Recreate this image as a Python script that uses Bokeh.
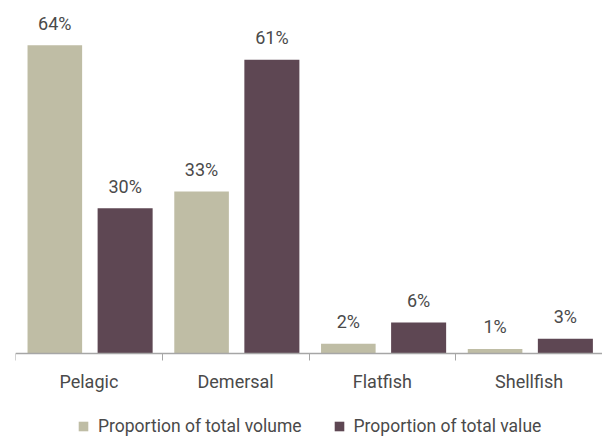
from bokeh.plotting import figure
from bokeh.models import ColumnDataSource, FixedTicker, Range1d, Legend, LegendItem
from bokeh.embed import file_html
from bokeh.resources import INLINE
from bokeh.core.properties import value

categories = ["Pelagic", "Demersal", "Flatfish", "Shellfish"]
volume = [64.0, 33.6, 1.95, 0.9]
value_share = [30.1, 61.0, 6.4, 3.0]
volume_labels = ["64%", "33%", "2%", "1%"]
value_labels = ["30%", "61%", "6%", "3%"]
series_names = ["Proportion of total volume", "Proportion of total value"]

VOL_COLOR = "#bfbda5"
VAL_COLOR = "#5e4753"
TEXT_COLOR = "#4a4a4a"
FONT = "Roboto"

centers = [i + 0.5 for i in range(len(categories))]
src = ColumnDataSource(dict(
    xv=[c - 0.232 for c in centers],
    xw=[c + 0.247 for c in centers],
    vol=volume, val=value_share,
    vl=volume_labels, wl=value_labels,
))

p = figure(width=602, height=439, output_backend="svg", toolbar_location=None,
           x_range=Range1d(0, len(categories)), y_range=Range1d(-17.93, 73.29),
           min_border_left=15, min_border_right=0, min_border_top=0, min_border_bottom=0)
p.outline_line_color = None
p.grid.grid_line_color = None
p.yaxis.visible = False
p.background_fill_color = "white"
p.border_fill_color = "white"

r1 = p.vbar(x="xv", top="vol", width=0.372, source=src, fill_color=VOL_COLOR, line_color=None)
r2 = p.vbar(x="xw", top="val", width=0.375, source=src, fill_color=VAL_COLOR, line_color=None)

p.text(x="xv", y="vol", text="vl", source=src, text_align="center", text_baseline="alphabetic",
       y_offset=-22, text_font=value(FONT), text_font_size="18px", text_color=TEXT_COLOR)
p.text(x="xw", y="val", text="wl", source=src, text_align="center", text_baseline="alphabetic",
       y_offset=-22, text_font=value(FONT), text_font_size="18px", text_color=TEXT_COLOR)

ax = p.xaxis[0]
ax.fixed_location = 0
ax.ticker = FixedTicker(ticks=centers, minor_ticks=list(range(len(categories) + 1)))
ax.major_label_overrides = {c: name for c, name in zip(centers, categories)}
ax.major_tick_line_color = None
ax.major_tick_out = 0
ax.major_tick_in = 0
ax.minor_tick_out = 7
ax.minor_tick_in = 0
ax.minor_tick_line_color = "#a6a6a6"
ax.axis_line_color = "#a6a6a6"
ax.axis_line_width = 1.5
ax.major_label_standoff = 11
ax.major_label_text_font = FONT
ax.major_label_text_font_size = "18px"
ax.major_label_text_color = TEXT_COLOR

legend = Legend(items=[LegendItem(label=series_names[0], renderers=[r1]),
                       LegendItem(label=series_names[1], renderers=[r2])],
                orientation="horizontal", location=(62, 3),
                glyph_width=12, glyph_height=12, label_standoff=9, spacing=31,
                label_text_font=FONT, label_text_font_size="17.5px", label_text_color=TEXT_COLOR,
                border_line_color=None, background_fill_alpha=0, padding=0, margin=0)
p.add_layout(legend)

open("out.html", "w").write(file_html(p, INLINE))
